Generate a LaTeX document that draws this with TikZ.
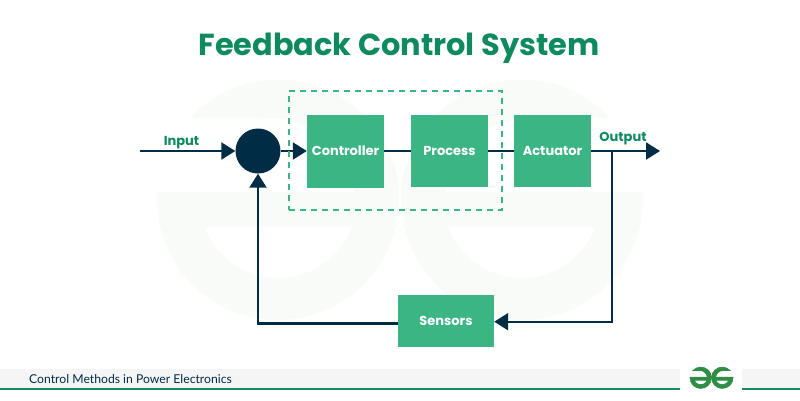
\documentclass[tikz,border=0pt]{standalone}
\usepackage{fontspec}
\setmainfont{Poppins}
\newfontfamily\footerfont{Lato}
\usetikzlibrary{arrows.meta}
\definecolor{navy}{HTML}{012C46}
\definecolor{boxgreen}{HTML}{3CB585}
\definecolor{titlegreen}{HTML}{0E8A5F}
\definecolor{barline}{HTML}{1A8A64}
\definecolor{bandgray}{HTML}{F5F5F5}
\definecolor{markpale}{HTML}{F9FBF9}
\definecolor{markgreen}{HTML}{2F8D46}
% one half of the double-G mark, in page pixels
\newcommand{\halfmark}[1]{%
  \fill[#1] (190,118) arc[start angle=223,end angle=356.7,radius=121]
     -- (354,192) .. controls (345,150) and (315,118) .. (270,118)
     .. controls (240,117) and (215,117) .. (190,118) -- cycle;
  \fill[#1,even odd rule] (157,192) -- (398,192) -- (399,199)
     arc[start angle=0,end angle=180,radius=121] -- cycle
     (352,227) arc[start angle=20.8,end angle=159.2,radius=79] -- cycle;
}
\newcommand{\fullmark}[1]{%
  \halfmark{#1}
  \begin{scope}[shift={(800,0)},xscale=-1]\halfmark{#1}\end{scope}
}
\tikzset{
  blockbox/.style={fill=boxgreen,text=white,font=\bfseries\fontsize{13}{15}\selectfont,
    inner sep=0pt,minimum width=77pt,minimum height=73pt,anchor=center},
  wire/.style={draw=navy,line width=2.2pt},
  flow/.style={wire,-{Triangle[length=14pt,width=17pt]}},
  signal/.style={text=titlegreen,font=\bfseries\fontsize{13}{15}\selectfont,inner sep=0pt},
}
\begin{document}
\begin{tikzpicture}[x=1pt,y=-1pt]
\useasboundingbox (0,0) rectangle (800,400);
\fill[white] (0,0) rectangle (800,400);
\fullmark{markpale}

\node[text=titlegreen,font=\bfseries\fontsize{30.4}{36}\selectfont,inner sep=0pt] (title) at (399,48) {Feedback Control System};

\node[blockbox] (controller) at (345.5,151) {Controller};
\node[blockbox,minimum height=72pt] (process) at (449.5,151) {Process};
\node[blockbox,minimum height=72pt] (actuator) at (552.5,151) {Actuator};
\node[blockbox,minimum width=96pt,minimum height=52pt] (sensors) at (446,321) {Sensors};
\node[circle,fill=navy,minimum size=45pt,inner sep=0pt] (sum) at (258,151) {};

\coordinate (source) at (140,151);
\coordinate (sink) at (660,151);
\coordinate (tap) at (612,151);

\draw[flow] (source) -- (sum.west);
\draw[flow] (sum.east) -- (controller.west);
\draw[wire] (controller.east) -- (process.west);
\draw[wire] (process.east) -- (actuator.west);
\draw[flow] (actuator.east) -- (sink);
\draw[flow] (tap) |- ([yshift=-0.7pt]sensors.east);
\draw[flow] ([yshift=-2.5pt]sensors.west) -| (sum.south);

\node[draw=boxgreen,line width=2pt,dash pattern=on 6pt off 5pt,minimum width=213pt,minimum height=119pt,inner sep=0pt] (loopframe) at (395.5,150.5) {};

\node[signal] (inputlabel) at (181.5,143) {Input};
\node[signal] (outputlabel) at (623,138.5) {Output};

\fill[bandgray] (0,369) rectangle (680,388);
\fill[bandgray] (742,369) rectangle (800,388);
\fill[barline] (0,387.5) rectangle (680,390);
\fill[barline] (742,387.5) rectangle (800,390);
\node[anchor=west,inner sep=0pt,text=navy,font=\footerfont\fontsize{12.2}{14}\selectfont] (footer) at (29,379) {Control Methods in Power Electronics};

\begin{scope}[shift={(676.1,360.1)},scale=0.0885]
\fullmark{markgreen,draw=markgreen,line width=0.7pt}
\end{scope}
\end{tikzpicture}
\end{document}
